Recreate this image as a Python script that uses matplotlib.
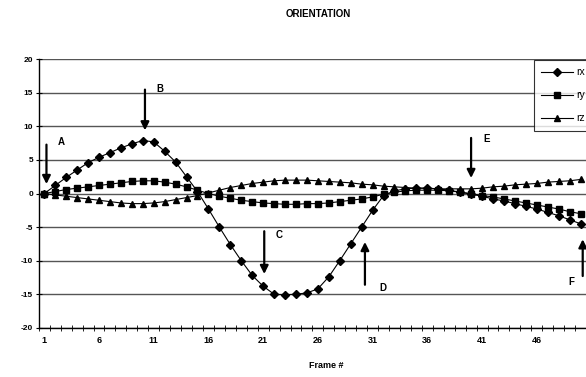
import matplotlib
matplotlib.use("Agg")
import matplotlib.pyplot as plt

plt.rcParams['font.family'] = ['Liberation Sans', 'DejaVu Sans']

frames = list(range(1, 51))
rx = [0.0, 1.2, 2.4, 3.5, 4.6, 5.4, 6.1, 6.8, 7.4, 7.9,
      7.7, 6.3, 4.7, 2.5, 0.3, -2.3, -5.0, -7.6, -10.0, -12.2,
      -13.8, -15.0, -15.1, -15.0, -14.8, -14.2, -12.4, -10.0, -7.5, -5.0,
      -2.5, -0.3, 0.4, 0.7, 0.8, 0.8, 0.7, 0.5, 0.2, -0.1,
      -0.4, -0.8, -1.1, -1.5, -1.9, -2.3, -2.8, -3.3, -3.9, -4.5]
ry = [0.0, 0.3, 0.6, 0.8, 1.0, 1.2, 1.4, 1.6, 1.8, 1.9,
      1.9, 1.7, 1.4, 1.0, 0.5, 0.0, -0.4, -0.7, -1.0, -1.2,
      -1.4, -1.5, -1.6, -1.6, -1.5, -1.5, -1.4, -1.2, -1.0, -0.8,
      -0.5, -0.1, 0.2, 0.4, 0.5, 0.5, 0.5, 0.4, 0.2, 0.0,
      -0.3, -0.5, -0.8, -1.1, -1.4, -1.7, -2.0, -2.3, -2.7, -3.0]
rz = [0.0, -0.2, -0.4, -0.6, -0.8, -1.0, -1.2, -1.4, -1.5, -1.5,
      -1.4, -1.2, -0.9, -0.6, -0.3, 0.1, 0.5, 0.9, 1.2, 1.5,
      1.7, 1.9, 2.0, 2.0, 2.0, 1.9, 1.8, 1.7, 1.6, 1.4,
      1.3, 1.1, 1.0, 0.9, 0.8, 0.8, 0.7, 0.7, 0.7, 0.7,
      0.8, 1.0, 1.1, 1.3, 1.4, 1.5, 1.7, 1.8, 1.9, 2.1]
series_names = ['rx', 'ry', 'rz']
x_tick_labels = ['1', '6', '11', '16', '21', '26', '31', '36', '41', '46']
y_ticks = [-20, -15, -10, -5, 0, 5, 10, 15, 20]

# annotations: label, arrow frame, arrow start value, arrow end value, label frame, label value
ann_labels = ['A', 'B', 'C', 'D', 'E', 'F']
ann_x = [1.2, 10.2, 21.1, 30.3, 40.0, 50.2]
ann_from = [7.7, 15.9, -5.2, -14.0, 8.7, -12.7]
ann_to = [1.0, 9.0, -12.4, -6.8, 1.9, -6.4]
lab_x = [2.2, 11.2, 22.1, 31.6, 41.1, 48.9]
lab_y = [7.7, 15.6, -6.2, -14.0, 8.2, -13.2]

fig = plt.figure(figsize=(5.86, 3.77), dpi=100)
left = 38.8 / 586
bottom = 1 - 327.8 / 377
top = 1 - 59.3 / 377
ax = fig.add_axes([left, bottom, 1 - left, top - bottom])

markers = ['D', 's', '^']
for name, vals, m in zip(series_names, [rx, ry, rz], markers):
    ax.plot(frames, vals, color='black', lw=0.8, marker=m, markersize=3.8,
            markerfacecolor='black', markeredgecolor='black', label=name)

ax.set_xlim(0.5, 50.36)
ax.set_ylim(-20, 20)
ax.set_yticks(y_ticks)
ax.set_yticklabels([str(v) for v in y_ticks], fontsize=6, fontweight='bold')
for v in y_ticks:
    ax.axhline(v, color='#555555', lw=1.0, zorder=0)

ax.set_xticks([int(s) for s in x_tick_labels])
ax.set_xticklabels(x_tick_labels, fontsize=6.5, fontweight='bold')
ax.tick_params(axis='x', which='major', length=0, pad=6)
ax.set_xticks([f + 0.5 for f in range(0, 51)], minor=True)
ax.tick_params(axis='x', which='minor', direction='inout', length=4, width=0.6)
ax.tick_params(axis='y', which='major', direction='inout', length=4, width=0.8, pad=2)

for s in ['top', 'right']:
    ax.spines[s].set_visible(False)
ax.spines['left'].set_linewidth(1.0)
ax.spines['bottom'].set_linewidth(1.0)

for lab, x, y0, y1, lx, ly in zip(ann_labels, ann_x, ann_from, ann_to, lab_x, lab_y):
    ax.annotate('', xy=(x, y1), xytext=(x, y0),
                arrowprops=dict(arrowstyle='-|>', lw=1.6, color='black', mutation_scale=12),
                annotation_clip=False)
    ax.text(lx, ly, lab, fontsize=7, fontweight='bold', ha='left', va='center')

leg = ax.legend(loc='upper left', bbox_to_anchor=(534 / 586, 1 - 60 / 377),
                bbox_transform=fig.transFigure, fontsize=7.5, frameon=True,
                fancybox=False, edgecolor='black', handlelength=3.0,
                borderpad=0.7, labelspacing=1.25, handletextpad=0.4,
                borderaxespad=0.0)
leg.get_frame().set_linewidth(0.8)

fig.text(318 / 586, 1 - 14 / 377, 'ORIENTATION', ha='center', va='center',
         fontsize=7, fontweight='bold')
fig.text(326 / 586, 1 - 366 / 377, 'Frame #', ha='center', va='center',
         fontsize=6.5, fontweight='bold')

fig.savefig('out.png', dpi=100)
